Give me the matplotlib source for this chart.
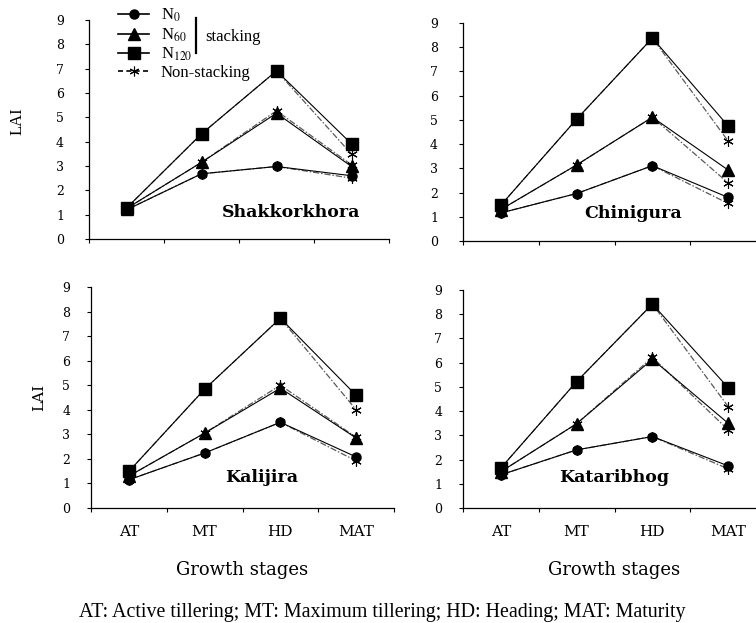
import matplotlib
matplotlib.use('Agg')
import matplotlib.pyplot as plt
from matplotlib.lines import Line2D

plt.rcParams['mathtext.fontset'] = 'stix'

stages = ["AT", "MT", "HD", "MAT"]
varieties = ["Shakkorkhora", "Chinigura", "Kalijira", "Kataribhog"]

# LAI values, stacking (s_) and non-stacking (ns_), order = varieties
s_n0 = [[1.20, 2.68, 2.98, 2.60],
        [1.16, 1.96, 3.11, 1.80],
        [1.15, 2.24, 3.49, 2.08],
        [1.37, 2.40, 2.95, 1.74]]
s_n60 = [[1.25, 3.15, 5.17, 2.98],
         [1.30, 3.14, 5.11, 2.93],
         [1.30, 3.05, 4.88, 2.85],
         [1.50, 3.48, 6.14, 3.50]]
s_n120 = [[1.27, 4.32, 6.91, 3.91],
          [1.48, 5.03, 8.38, 4.75],
          [1.49, 4.84, 7.73, 4.59],
          [1.65, 5.22, 8.42, 4.97]]
ns_n0 = [[1.20, 2.68, 2.98, 2.50],
         [1.16, 1.96, 3.11, 1.55],
         [1.15, 2.24, 3.49, 1.92],
         [1.37, 2.40, 2.95, 1.62]]
ns_n60 = [[1.25, 3.15, 5.27, 3.05],
          [1.30, 3.14, 5.11, 2.40],
          [1.30, 3.05, 5.00, 2.88],
          [1.50, 3.48, 6.22, 3.23]]
ns_n120 = [[1.27, 4.32, 6.91, 3.49],
           [1.48, 5.03, 8.38, 4.13],
           [1.49, 4.84, 7.73, 4.00],
           [1.65, 5.22, 8.42, 4.19]]

W, H = 756, 623
fig = plt.figure(figsize=(W / 100, H / 100), dpi=100)

# axes boxes in pixels: left, top, right, bottom
boxes = [(89, 20, 389, 239), (463, 23, 766, 241),
         (91, 287, 394, 508), (463, 290, 766, 508)]
title_pos = [(0.673, 0.123), (0.561, 0.128), (0.5625, 0.14), (0.50, 0.142)]

star = (6, 2, 0)
dash = (0, (5, 1.5, 1.2, 1.5))
x = list(range(4))
axes = []
for i, (l, t, r, b) in enumerate(boxes):
    ax = fig.add_axes([l / W, 1 - b / H, (r - l) / W, (b - t) / H])
    axes.append(ax)
    for ys in (ns_n0[i], ns_n60[i], ns_n120[i]):
        ax.plot(x, ys, color='0.35', lw=0.9, ls=dash, marker=star,
                ms=7.5, mew=0.8, mec='black', zorder=2)
    ax.plot(x, s_n0[i], color='black', lw=0.8, marker='o', ms=6.5, zorder=3)
    ax.plot(x, s_n60[i], color='black', lw=0.8, marker='^', ms=8.5, zorder=3)
    ax.plot(x, s_n120[i], color='black', lw=0.8, marker='s', ms=8, zorder=3)

    ax.set_xlim(-0.5, 3.5)
    ax.set_ylim(0, 9)
    ax.spines['top'].set_visible(False)
    ax.spines['right'].set_visible(False)
    for sp in ('left', 'bottom'):
        ax.spines[sp].set_linewidth(0.9)
    ax.set_yticks(range(10))
    ax.set_yticklabels([str(v) for v in range(10)], family='DejaVu Serif', fontsize=9)
    ax.tick_params(axis='y', length=3, width=0.8, pad=15 if i < 2 else 12)
    ax.set_xticks([-0.5, 0.5, 1.5, 2.5, 3.5], minor=True)
    ax.tick_params(axis='x', which='minor', length=3, width=0.8)
    ax.set_xticks(x)
    if i >= 2:
        ax.set_xticklabels(stages, family='DejaVu Serif', fontsize=11)
        ax.tick_params(axis='x', which='major', length=0, pad=12)
        ax.set_xlabel('Growth stages', family='DejaVu Serif', fontsize=13, labelpad=16)
    else:
        ax.set_xticklabels([])
        ax.tick_params(axis='x', which='major', length=0)
    ax.text(title_pos[i][0], title_pos[i][1], varieties[i], transform=ax.transAxes,
            ha='center', va='center', family='DejaVu Serif', fontweight='bold',
            fontsize=12.5)

fig.text(18 / W, 1 - 121 / H, 'LAI', rotation=90, ha='center', va='center',
         family='Liberation Serif', fontsize=12)
fig.text(39 / W, 1 - 397 / H, 'LAI', rotation=90, ha='center', va='center',
         family='DejaVu Serif', fontsize=11)

handles = [Line2D([], [], color='black', lw=1.2, marker='o', ms=6.5),
           Line2D([], [], color='black', lw=1.2, marker='^', ms=8.5),
           Line2D([], [], color='black', lw=1.2, marker='s', ms=8),
           Line2D([], [], color='black', lw=1.2, ls=(0, (3, 2)), marker=star,
                  ms=7, mew=0.8)]
labels = [r'N$_{0}$', r'N$_{60}$', r'N$_{120}$', 'Non-stacking']
fig.legend(handles, labels, loc='upper left', bbox_to_anchor=(118 / W, 1 - 7 / H),
           frameon=False, borderpad=0, borderaxespad=0, labelspacing=0.12,
           handlelength=1.86, handletextpad=0.72,
           prop={'family': 'Liberation Serif', 'size': 12})
fig.add_artist(Line2D([196 / W, 196 / W], [1 - 18 / H, 1 - 53 / H], color='black', lw=1.6))
fig.text(205 / W, 1 - 37 / H, 'stacking', ha='left', va='center',
         family='Liberation Serif', fontsize=12)

fig.text(382 / W, 1 - 617 / H,
         'AT: Active tillering; MT: Maximum tillering; HD: Heading; MAT: Maturity',
         ha='center', va='baseline', family='Liberation Serif', fontsize=14.4)

fig.savefig('out.png', dpi=100)
